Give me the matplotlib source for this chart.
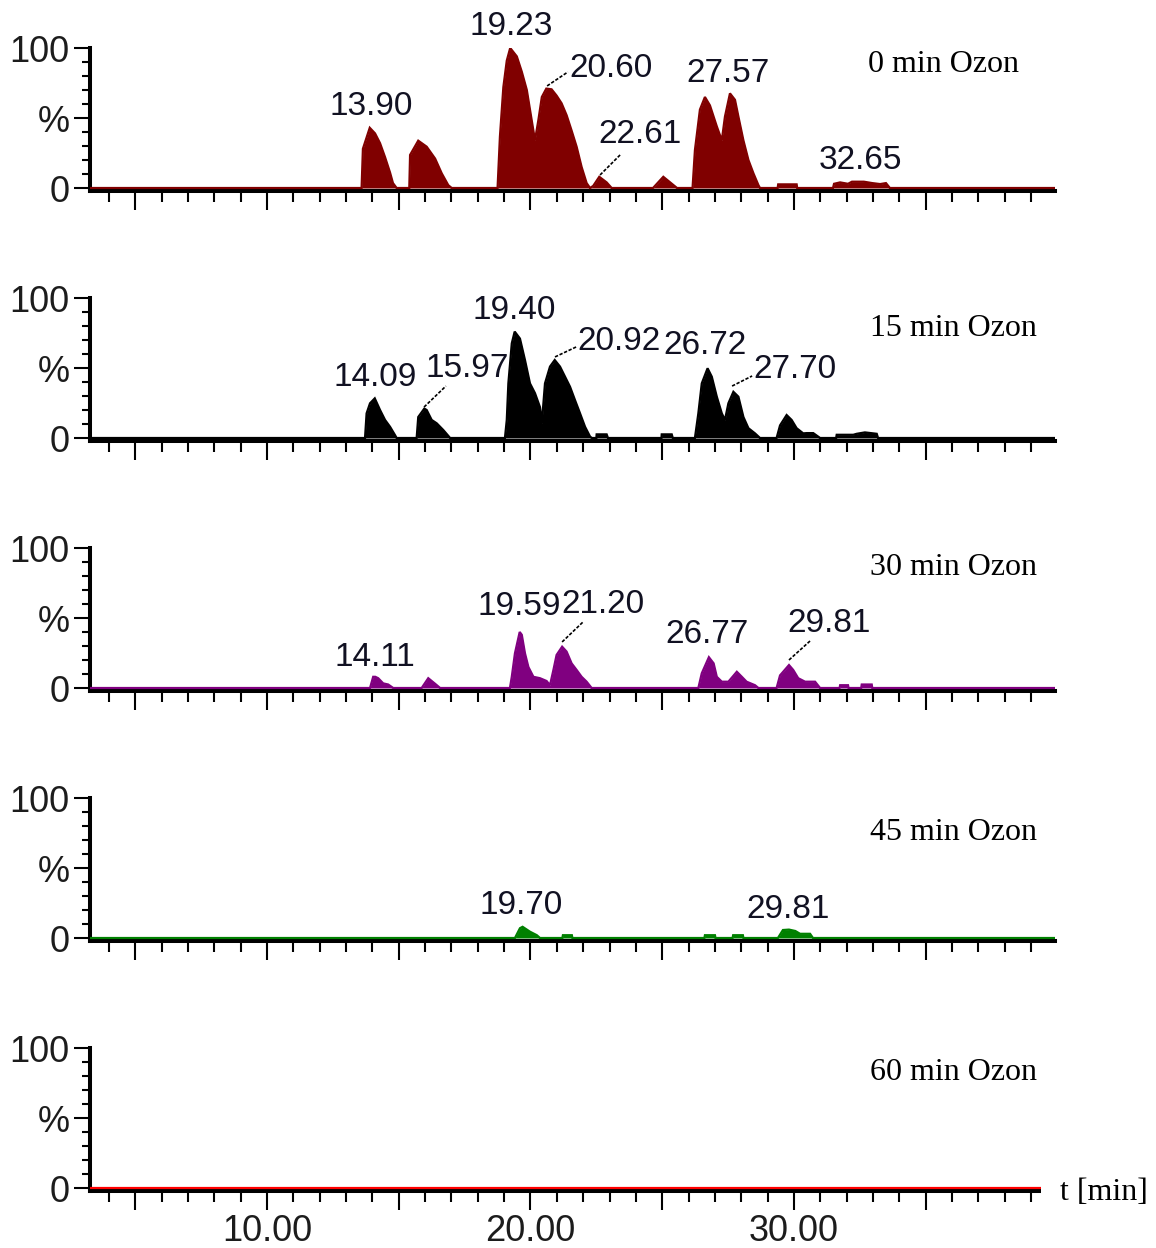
import matplotlib
matplotlib.use("Agg")
import matplotlib.pyplot as plt
from matplotlib.ticker import FixedLocator, FixedFormatter, MultipleLocator, NullFormatter

# Retention time (min) and relative intensity (%) of each chromatogram
t_0min = [3.3, 13.59, 13.64, 13.90, 14.10, 14.29, 14.48, 14.67, 14.78, 14.92,
          15.40, 15.43, 15.74, 16.06, 16.38, 16.63, 16.88, 17.01,
          18.75, 18.84, 18.97, 19.10, 19.23, 19.48, 19.67, 19.86, 19.98, 20.17,
          20.30, 20.43, 20.60, 20.80, 20.99, 21.18, 21.37, 21.56, 21.75, 21.94,
          22.13, 22.26, 22.38, 22.61, 22.89, 23.08,
          24.65, 25.04, 25.56,
          26.15, 26.24, 26.43, 26.62, 26.81, 27.07, 27.26, 27.38, 27.57, 27.76,
          27.89, 28.08, 28.27, 28.46, 28.65, 28.71,
          29.38, 29.40, 30.10, 30.12,
          31.48, 31.52, 31.75, 32.05, 32.20, 32.65, 32.97, 33.27, 33.49, 33.64, 39.9]
i_0min = [0, 0, 28, 43, 39, 32, 22, 11, 3.5, 0,
          0, 23.6, 33.8, 29.5, 21, 10.5, 2, 0,
          0, 36.7, 72, 91, 100, 94, 83, 70, 56, 34,
          48.6, 65, 71, 70.5, 66, 60.5, 52, 41, 29.5, 15,
          3.5, 0, 1.5, 8, 4, 0,
          0, 8, 0,
          0, 27, 56, 65, 59, 44, 34, 51, 67.6, 63,
          51, 34, 20, 10.5, 2, 0,
          0, 2.6, 2.6, 0,
          0, 3, 4, 3, 4.5, 4.5, 3.5, 2.8, 3.5, 0, 0]

t_15min = [3.3, 13.72, 13.78, 13.91, 14.09, 14.29, 14.48, 14.67, 14.86, 14.92,
           15.68, 15.74, 15.97, 16.06, 16.25, 16.44, 16.69, 16.95,
           19.03, 19.10, 19.16, 19.29, 19.40, 19.60, 19.79, 19.98, 20.17, 20.36,
           20.43, 20.55, 20.74, 20.92, 21.12, 21.31, 21.50, 21.69, 21.88, 22.07,
           22.26, 22.33, 22.50, 22.51, 22.89, 22.94,
           24.97, 24.98, 25.36, 25.40,
           26.24, 26.37, 26.50, 26.72, 26.88, 27.07, 27.26, 27.38, 27.51, 27.70,
           27.89, 28.08, 28.27, 28.52, 28.71,
           29.34, 29.47, 29.72, 29.91, 30.10, 30.35, 30.48, 30.73, 30.99,
           31.60, 31.62, 32.25, 32.38, 32.69, 33.14, 33.19, 39.9]
i_15min = [0, 0, 17.6, 24.8, 28.3, 20, 12.9, 8, 2, 0,
           0, 15, 21, 20, 12.9, 10.5, 5.7, 0,
           0, 12.9, 39, 67.6, 76, 71, 55.7, 39, 32, 22,
           10.5, 39, 51, 55.7, 51, 43.8, 36.6, 27, 17.6, 8,
           1, 0, 0, 2.6, 2.6, 0,
           0, 2.6, 2.6, 0,
           0, 17.6, 39, 49.8, 43.8, 29.5, 17.6, 12.9, 24.8, 33,
           29.5, 15, 7, 3.3, 0,
           0, 9, 16.4, 12.9, 7, 3.3, 3.5, 3.5, 0,
           0, 2.3, 2.3, 3, 4, 3, 0, 0]

t_30min = [3.3, 13.91, 14.03, 14.11, 14.22, 14.41, 14.60, 14.79,
           15.87, 16.12, 16.38, 16.57,
           19.22, 19.29, 19.41, 19.59, 19.67, 19.79, 19.92, 20.11, 20.36, 20.61,
           20.74, 20.87, 20.99, 21.20, 21.37, 21.56, 21.75, 21.94, 22.13, 22.32,
           26.37, 26.50, 26.77, 26.95, 27.07, 27.26, 27.51, 27.83, 28.02, 28.20,
           28.52, 28.65,
           29.34, 29.47, 29.81, 29.97, 30.16, 30.42, 30.80, 30.99,
           31.73, 31.75, 32.05, 32.07, 32.55, 32.57, 32.95, 32.97, 39.9]
i_30min = [0, 0, 8, 8, 7, 3.3, 2.5, 0,
           0, 7, 3, 0,
           0, 8, 24.8, 40, 38, 24.8, 15, 8, 7, 5,
           2, 12.9, 23.6, 29.5, 26, 17.6, 12.9, 8, 4.5, 0,
           0, 10.5, 22, 17.6, 8, 4.5, 4.5, 11.6, 8, 4.5,
           2, 0,
           0, 9, 16.4, 12.9, 7, 4.5, 4.5, 0,
           0, 2, 2, 0, 0, 2.5, 2.5, 0, 0]

t_45min = [3.3, 19.41, 19.60, 19.70, 19.98, 20.24, 20.36,
           21.21, 21.23, 21.57, 21.59,
           26.60, 26.62, 27.00, 27.02,
           27.67, 27.69, 28.06, 28.08,
           29.39, 29.58, 29.81, 30.05, 30.23, 30.61, 30.72, 39.9]
i_45min = [0, 0, 7, 8, 4.5, 2, 0,
           0, 2, 2, 0,
           0, 2, 2, 0,
           0, 2, 2, 0,
           0, 5.7, 6, 5, 3, 3, 0, 0]

t_60min = [3.3, 39.9]
i_60min = [0, 0]

series_names = ["0 min Ozon", "15 min Ozon", "30 min Ozon", "45 min Ozon", "60 min Ozon"]
series_t = [t_0min, t_15min, t_30min, t_45min, t_60min]
series_i = [i_0min, i_15min, i_30min, i_45min, i_60min]
series_colors = ["#800000", "#000000", "#800080", "#008000", "#ff0000"]

# Peak annotations: label text, label centre (t, %), optional leader line
peaks_0min = ["13.90", "19.23", "20.60", "22.61", "27.57", "32.65"]
peaks_15min = ["14.09", "15.97", "19.40", "20.92", "26.72", "27.70"]
peaks_30min = ["14.11", "19.59", "21.20", "26.77", "29.81"]
peaks_45min = ["19.70", "29.81"]
peaks_60min = []
series_peaks = [peaks_0min, peaks_15min, peaks_30min, peaks_45min, peaks_60min]

label_xy = [
    [(13.95, 57.9), (19.26, 115.7), (23.06, 85.7), (24.16, 37.9), (27.50, 82.1), (32.54, 19.3)],
    [(14.10, 42.9), (17.59, 50.0), (19.37, 91.4), (23.36, 68.6), (26.62, 66.4), (30.04, 48.6)],
    [(14.10, 22.1), (19.56, 57.9), (22.75, 59.3), (26.70, 37.9), (31.33, 46.4)],
    [(19.64, 22.9), (29.77, 20.7)],
    [],
]
leaders = [
    [None, None, (20.63, 72.9, 21.42, 82.9), (22.64, 9.3, 23.40, 23.6), None, None],
    [None, (15.96, 22.1, 16.79, 37.1), None, (20.93, 57.9, 21.73, 65.0), None,
     (27.65, 37.1, 28.41, 44.3)],
    [None, None, (21.20, 32.9, 21.99, 47.1), None, (29.81, 20.0, 30.61, 33.6)],
    [None, None],
    [],
]

# Panel placement in pixels (row of the 0 % line) and name text centre rows
W, H = 1156, 1248
zero_rows = [188, 438, 688, 938, 1188]
name_rows = [64, 328, 568, 832, 1072]
name_cols = [868, 870, 870, 870, 870]

x_lo, x_hi = 3.283, 39.905
y_lo, y_hi = -2.0, 100.0
px_per_pct = 1.4

sans = ["Liberation Sans", "DejaVu Sans"]
serif = ["Liberation Serif", "DejaVu Serif"]
tick_color = "#1c1c1c"

fig = plt.figure(figsize=(W / 100, H / 100), dpi=100)
fig.patch.set_facecolor("white")

left = 90 / W
width = 965 / W
for k in range(5):
    z = zero_rows[k]
    h_px = (y_hi - y_lo) * px_per_pct
    bottom = 1 - (z + (-y_lo) * px_per_pct) / H
    ax = fig.add_axes([left, bottom, width, h_px / H])
    ax.set_xlim(x_lo, x_hi)
    ax.set_ylim(y_lo, y_hi)
    ax.patch.set_alpha(0)

    col = series_colors[k]
    ax.fill_between(series_t[k], 0, series_i[k], color=col, linewidth=0, zorder=2)
    ax.plot(series_t[k], series_i[k], color=col, lw=1.6, zorder=3,
            solid_joinstyle="miter")

    for s in ("top", "right"):
        ax.spines[s].set_visible(False)
    for s in ("left", "bottom"):
        ax.spines[s].set_linewidth(2.9)
        ax.spines[s].set_color("black")
        ax.spines[s].set_zorder(2.5)

    ax.yaxis.set_major_locator(FixedLocator([0, 50, 100]))
    ax.yaxis.set_major_formatter(FixedFormatter(["0", "%", "100"]))
    ax.yaxis.set_minor_locator(FixedLocator([10, 20, 30, 40, 60, 70, 80, 90]))
    ax.tick_params(axis="y", which="major", direction="out", length=11.5, width=1.5,
                   pad=3, labelsize=26, labelcolor=tick_color)
    ax.tick_params(axis="y", which="minor", direction="out", length=5.8, width=1.5)

    ax.xaxis.set_minor_locator(MultipleLocator(1))
    if k == 4:
        ax.xaxis.set_major_locator(FixedLocator(list(range(-5, 45, 5))))
        ax.xaxis.set_major_formatter(
            FixedFormatter([""] + ["" if v % 10 else f"{v:.2f}" for v in range(0, 45, 5)]))
    else:
        ax.xaxis.set_major_locator(MultipleLocator(5))
        ax.xaxis.set_major_formatter(NullFormatter())
    ax.tick_params(axis="x", which="major", direction="out", length=14, width=1.5,
                   pad=3, labelsize=26, labelcolor=tick_color)
    ax.tick_params(axis="x", which="minor", direction="out", length=8, width=1.5)
    for lab in ax.get_xticklabels() + ax.get_yticklabels():
        lab.set_fontfamily(sans)

    for txt, (tx, ty), ld in zip(series_peaks[k], label_xy[k], leaders[k]):
        ax.text(tx, ty, txt, ha="center", va="center", fontsize=24,
                family=sans, color="#111122", clip_on=False, zorder=5)
        if ld is not None:
            ax.plot([ld[0], ld[2]], [ld[1], ld[3]], color="black", lw=1.2,
                    ls=(0, (2, 1)), clip_on=False, zorder=5)

    fig.text(name_cols[k] / W, 1 - name_rows[k] / H, series_names[k],
             ha="left", va="center", fontsize=23, family=serif, color="black")

fig.text(1060 / W, 1 - 1192 / H, "t [min]", ha="left", va="center", fontsize=23,
         family=serif, color="black",
         bbox=dict(boxstyle="square,pad=0.6", facecolor="white", edgecolor="none"))

fig.savefig("out.png", dpi=100, facecolor="white")
